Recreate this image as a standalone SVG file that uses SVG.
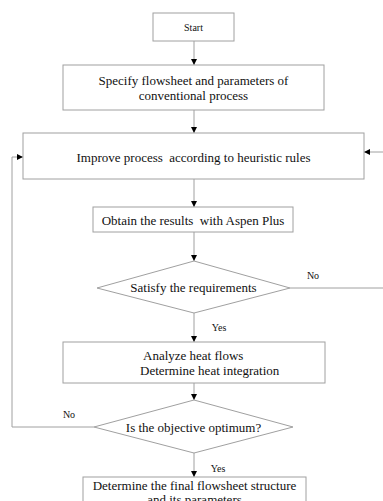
<svg xmlns="http://www.w3.org/2000/svg" width="383" height="501" viewBox="0 0 383 501">
<style>
.box{fill:#fff;stroke:#a0a0a0;stroke-width:1}
.t{font-family:"Liberation Serif","Times New Roman",serif;font-size:13px;fill:#111;text-anchor:middle;dominant-baseline:central;white-space:pre}
.s{font-size:10px}
.c{fill:none;stroke:#a0a0a0;stroke-width:1}
</style>
<defs>
<marker id="ah" markerUnits="userSpaceOnUse" markerWidth="7" markerHeight="7" refX="6" refY="3.5" orient="auto">
<path d="M0,0.5 L6,3.5 L0,6.5 Z" fill="#000"/>
</marker>
</defs>
<rect width="383" height="501" fill="#fff"/>
<g id="connectors">
<line class="c" x1="194" y1="41" x2="194" y2="65" marker-end="url(#ah)"/>
<line class="c" x1="194" y1="110" x2="194" y2="133" marker-end="url(#ah)"/>
<line class="c" x1="194" y1="179" x2="194" y2="207" marker-end="url(#ah)"/>
<line class="c" x1="194" y1="232" x2="194" y2="261" marker-end="url(#ah)"/>
<line class="c" x1="194" y1="313" x2="194" y2="342" marker-end="url(#ah)"/>
<line class="c" x1="194" y1="383" x2="194" y2="400" marker-end="url(#ah)"/>
<line class="c" x1="194" y1="453" x2="194" y2="477" marker-end="url(#ah)"/>
<polyline class="c" points="94,427 12,427 12,157 23,157" marker-end="url(#ah)"/>
<line class="c" x1="290" y1="288" x2="383" y2="288"/>
<line class="c" x1="383" y1="152" x2="364" y2="152" marker-end="url(#ah)"/>
<text class="t s" x="313" y="275">No</text>
<text class="t s" x="219" y="327">Yes</text>
<text class="t s" x="69" y="414">No</text>
<text class="t s" x="218" y="468">Yes</text>
</g>
<g id="start">
<rect class="box" x="153" y="13" width="81" height="28"/>
<text class="t s" x="193.5" y="27">Start</text>
</g>
<g id="specify">
<rect class="box" x="63" y="65" width="261" height="45"/>
<text class="t" x="193.5" y="80">Specify flowsheet and parameters of</text>
<text class="t" x="193.5" y="95">conventional process</text>
</g>
<g id="improve">
<rect class="box" x="23" y="133" width="341" height="46"/>
<text class="t" x="193.5" y="157" xml:space="preserve">Improve process  according to heuristic rules</text>
</g>
<g id="obtain">
<rect class="box" x="93" y="207" width="200" height="25"/>
<text class="t" x="193" y="220" xml:space="preserve">Obtain the results  with Aspen Plus</text>
</g>
<g id="satisfy">
<polygon class="box" points="194,261 290,288 194,313 97,288"/>
<text class="t" x="193.5" y="287">Satisfy the requirements</text>
</g>
<g id="analyze">
<rect class="box" x="63" y="342" width="262" height="41"/>
<text class="t" x="143" y="355.5" style="text-anchor:start">Analyze heat flows</text>
<text class="t" x="140" y="370" style="text-anchor:start">Determine heat integration</text>
</g>
<g id="optimum">
<polygon class="box" points="194,400 293,427 194,453 94,427"/>
<text class="t" x="193.5" y="427">Is the objective optimum?</text>
</g>
<g id="final">
<rect class="box" x="83" y="477" width="223" height="40"/>
<text class="t" x="194.5" y="485">Determine the final flowsheet structure</text>
<text class="t" x="194.5" y="499">and its parameters</text>
</g>
</svg>
